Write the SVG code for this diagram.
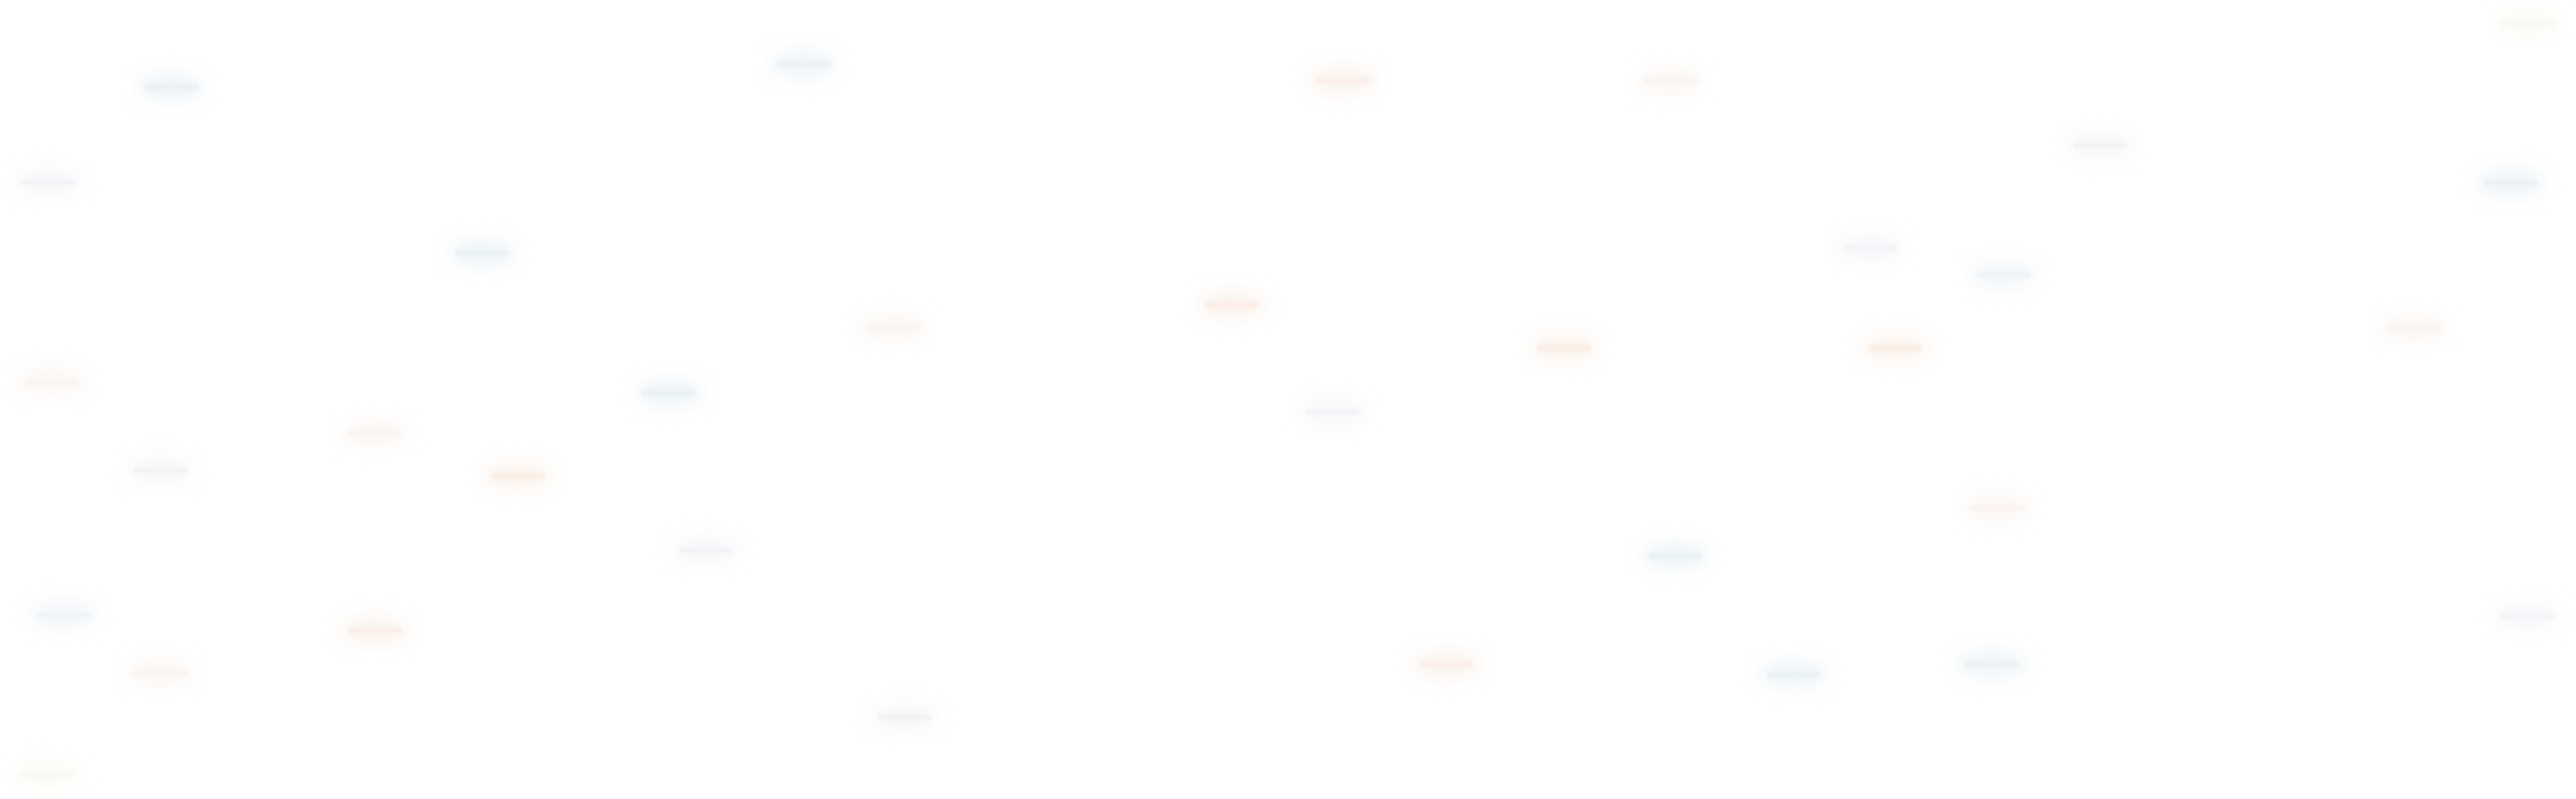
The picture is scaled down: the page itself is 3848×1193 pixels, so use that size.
<svg xmlns="http://www.w3.org/2000/svg" width="3848" height="1193" viewBox="0 0 3848 1193">
<defs>
<filter id="haze" x="-60%" y="-100%" width="220%" height="300%"><feGaussianBlur stdDeviation="9"/></filter>
<filter id="mist" x="-40%" y="-100%" width="180%" height="300%"><feGaussianBlur stdDeviation="4"/></filter>
<filter id="bar" x="-20%" y="-150%" width="140%" height="400%"><feGaussianBlur stdDeviation="1.6"/></filter>
</defs>
<style>
.halo{stroke:none}
.mid{stroke:none}
.bar{stroke:none}
.b1 .halo{fill:#f7f9fb}.b1 .mid{fill:#f2f6f9}.b1 .bar{fill:#ebf2f6}
.b2 .halo{fill:#f9fafc}.b2 .mid{fill:#f4f8fa}.b2 .bar{fill:#eef4f7}
.b3 .halo{fill:#fbfbfc}.b3 .mid{fill:#f8f9fa}.b3 .bar{fill:#f2f4f7}
.o1 .halo{fill:#fdf9f6}.o1 .mid{fill:#fcf4ef}.o1 .bar{fill:#fbefe8}
.o2 .halo{fill:#fdfbf9}.o2 .mid{fill:#fcf8f5}.o2 .bar{fill:#fbf4f0}
.g .halo{fill:#fcfbfb}.g .mid{fill:#f9f8f8}.g .bar{fill:#f3f3f3}
.y .halo{fill:#fdfdfa}.y .mid{fill:#fcfbf7}.y .bar{fill:#f9f8f1}
</style>
<rect width="3848" height="1193" fill="#ffffff"/>
<g id="connectors"></g>
<g id="blobs">
<g id="n1" class="b1" transform="translate(256,130)"><ellipse class="halo" rx="55" ry="28" filter="url(#haze)"/><ellipse class="mid" rx="40" ry="15" filter="url(#mist)"/><rect class="bar" x="-40" y="-5" width="80" height="10" rx="5" filter="url(#bar)"/></g>
<g id="n2" class="b1" transform="translate(1200,96)"><ellipse class="halo" rx="55" ry="28" filter="url(#haze)"/><ellipse class="mid" rx="40" ry="15" filter="url(#mist)"/><rect class="bar" x="-40" y="-5" width="80" height="10" rx="5" filter="url(#bar)"/></g>
<g id="n3" class="o1" transform="translate(2005,120)"><ellipse class="halo" rx="55" ry="28" filter="url(#haze)"/><ellipse class="mid" rx="40" ry="15" filter="url(#mist)"/><rect class="bar" x="-40" y="-4" width="80" height="8" rx="4" filter="url(#bar)"/></g>
<g id="n4" class="o2" transform="translate(2496,121)"><ellipse class="halo" rx="55" ry="28" filter="url(#haze)"/><ellipse class="mid" rx="40" ry="15" filter="url(#mist)"/><rect class="bar" x="-40" y="-4" width="80" height="8" rx="4" filter="url(#bar)"/></g>
<g id="n5" class="g" transform="translate(3137,217)"><ellipse class="halo" rx="55" ry="28" filter="url(#haze)"/><ellipse class="mid" rx="40" ry="15" filter="url(#mist)"/><rect class="bar" x="-40" y="-4" width="80" height="8" rx="4" filter="url(#bar)"/></g>
<g id="n6" class="b1" transform="translate(3750,273)"><ellipse class="halo" rx="55" ry="28" filter="url(#haze)"/><ellipse class="mid" rx="40" ry="15" filter="url(#mist)"/><rect class="bar" x="-40" y="-4" width="80" height="8" rx="4" filter="url(#bar)"/></g>
<g id="n7" class="y" transform="translate(3776,34)"><ellipse class="halo" rx="55" ry="28" filter="url(#haze)"/><ellipse class="mid" rx="40" ry="15" filter="url(#mist)"/><rect class="bar" x="-40" y="-4" width="80" height="8" rx="4" filter="url(#bar)"/></g>
<g id="n8" class="b3" transform="translate(73,272)"><ellipse class="halo" rx="55" ry="28" filter="url(#haze)"/><ellipse class="mid" rx="40" ry="15" filter="url(#mist)"/><rect class="bar" x="-40" y="-4" width="80" height="8" rx="4" filter="url(#bar)"/></g>
<g id="n9" class="b1" transform="translate(720,378)"><ellipse class="halo" rx="55" ry="28" filter="url(#haze)"/><ellipse class="mid" rx="40" ry="15" filter="url(#mist)"/><rect class="bar" x="-40" y="-5" width="80" height="10" rx="5" filter="url(#bar)"/></g>
<g id="n10" class="o1" transform="translate(1840,455)"><ellipse class="halo" rx="55" ry="28" filter="url(#haze)"/><ellipse class="mid" rx="40" ry="15" filter="url(#mist)"/><rect class="bar" x="-40" y="-5" width="80" height="10" rx="5" filter="url(#bar)"/></g>
<g id="n11" class="o2" transform="translate(1334,489)"><ellipse class="halo" rx="55" ry="28" filter="url(#haze)"/><ellipse class="mid" rx="40" ry="15" filter="url(#mist)"/><rect class="bar" x="-40" y="-4" width="80" height="8" rx="4" filter="url(#bar)"/></g>
<g id="n12" class="b3" transform="translate(2793,370)"><ellipse class="halo" rx="55" ry="28" filter="url(#haze)"/><ellipse class="mid" rx="40" ry="15" filter="url(#mist)"/><rect class="bar" x="-40" y="-4" width="80" height="8" rx="4" filter="url(#bar)"/></g>
<g id="n13" class="b2" transform="translate(2992,410)"><ellipse class="halo" rx="55" ry="28" filter="url(#haze)"/><ellipse class="mid" rx="40" ry="15" filter="url(#mist)"/><rect class="bar" x="-40" y="-4" width="80" height="8" rx="4" filter="url(#bar)"/></g>
<g id="n14" class="o1" transform="translate(2336,519)"><ellipse class="halo" rx="55" ry="28" filter="url(#haze)"/><ellipse class="mid" rx="40" ry="15" filter="url(#mist)"/><rect class="bar" x="-40" y="-5" width="80" height="10" rx="5" filter="url(#bar)"/></g>
<g id="n15" class="o1" transform="translate(2831,520)"><ellipse class="halo" rx="55" ry="28" filter="url(#haze)"/><ellipse class="mid" rx="40" ry="15" filter="url(#mist)"/><rect class="bar" x="-40" y="-5" width="80" height="10" rx="5" filter="url(#bar)"/></g>
<g id="n16" class="o2" transform="translate(3606,490)"><ellipse class="halo" rx="55" ry="28" filter="url(#haze)"/><ellipse class="mid" rx="40" ry="15" filter="url(#mist)"/><rect class="bar" x="-40" y="-4" width="80" height="8" rx="4" filter="url(#bar)"/></g>
<g id="n17" class="o2" transform="translate(77,570)"><ellipse class="halo" rx="55" ry="28" filter="url(#haze)"/><ellipse class="mid" rx="40" ry="15" filter="url(#mist)"/><rect class="bar" x="-40" y="-4" width="80" height="8" rx="4" filter="url(#bar)"/></g>
<g id="n18" class="b1" transform="translate(999,587)"><ellipse class="halo" rx="55" ry="28" filter="url(#haze)"/><ellipse class="mid" rx="40" ry="15" filter="url(#mist)"/><rect class="bar" x="-40" y="-5" width="80" height="10" rx="5" filter="url(#bar)"/></g>
<g id="n19" class="b3" transform="translate(1991,615)"><ellipse class="halo" rx="55" ry="28" filter="url(#haze)"/><ellipse class="mid" rx="40" ry="15" filter="url(#mist)"/><rect class="bar" x="-40" y="-4" width="80" height="8" rx="4" filter="url(#bar)"/></g>
<g id="n20" class="o2" transform="translate(560,647)"><ellipse class="halo" rx="55" ry="28" filter="url(#haze)"/><ellipse class="mid" rx="40" ry="15" filter="url(#mist)"/><rect class="bar" x="-40" y="-4" width="80" height="8" rx="4" filter="url(#bar)"/></g>
<g id="n21" class="g" transform="translate(240,702)"><ellipse class="halo" rx="55" ry="28" filter="url(#haze)"/><ellipse class="mid" rx="40" ry="15" filter="url(#mist)"/><rect class="bar" x="-40" y="-4" width="80" height="8" rx="4" filter="url(#bar)"/></g>
<g id="n22" class="o1" transform="translate(774,711)"><ellipse class="halo" rx="55" ry="28" filter="url(#haze)"/><ellipse class="mid" rx="40" ry="15" filter="url(#mist)"/><rect class="bar" x="-40" y="-5" width="80" height="10" rx="5" filter="url(#bar)"/></g>
<g id="n23" class="o2" transform="translate(2983,758)"><ellipse class="halo" rx="55" ry="28" filter="url(#haze)"/><ellipse class="mid" rx="40" ry="15" filter="url(#mist)"/><rect class="bar" x="-40" y="-4" width="80" height="8" rx="4" filter="url(#bar)"/></g>
<g id="n24" class="b3" transform="translate(1054,822)"><ellipse class="halo" rx="55" ry="28" filter="url(#haze)"/><ellipse class="mid" rx="40" ry="15" filter="url(#mist)"/><rect class="bar" x="-40" y="-4" width="80" height="8" rx="4" filter="url(#bar)"/></g>
<g id="n25" class="b1" transform="translate(2502,830)"><ellipse class="halo" rx="55" ry="28" filter="url(#haze)"/><ellipse class="mid" rx="40" ry="15" filter="url(#mist)"/><rect class="bar" x="-40" y="-5" width="80" height="10" rx="5" filter="url(#bar)"/></g>
<g id="n26" class="b2" transform="translate(95,918)"><ellipse class="halo" rx="55" ry="28" filter="url(#haze)"/><ellipse class="mid" rx="40" ry="15" filter="url(#mist)"/><rect class="bar" x="-40" y="-4" width="80" height="8" rx="4" filter="url(#bar)"/></g>
<g id="n27" class="o1" transform="translate(560,942)"><ellipse class="halo" rx="55" ry="28" filter="url(#haze)"/><ellipse class="mid" rx="40" ry="15" filter="url(#mist)"/><rect class="bar" x="-40" y="-4" width="80" height="8" rx="4" filter="url(#bar)"/></g>
<g id="n28" class="b3" transform="translate(3775,920)"><ellipse class="halo" rx="55" ry="28" filter="url(#haze)"/><ellipse class="mid" rx="40" ry="15" filter="url(#mist)"/><rect class="bar" x="-40" y="-4" width="80" height="8" rx="4" filter="url(#bar)"/></g>
<g id="n29" class="o2" transform="translate(240,1005)"><ellipse class="halo" rx="55" ry="28" filter="url(#haze)"/><ellipse class="mid" rx="40" ry="15" filter="url(#mist)"/><rect class="bar" x="-40" y="-4" width="80" height="8" rx="4" filter="url(#bar)"/></g>
<g id="n30" class="o1" transform="translate(2160,992)"><ellipse class="halo" rx="55" ry="28" filter="url(#haze)"/><ellipse class="mid" rx="40" ry="15" filter="url(#mist)"/><rect class="bar" x="-40" y="-4" width="80" height="8" rx="4" filter="url(#bar)"/></g>
<g id="n31" class="b1" transform="translate(2679,1007)"><ellipse class="halo" rx="55" ry="28" filter="url(#haze)"/><ellipse class="mid" rx="40" ry="15" filter="url(#mist)"/><rect class="bar" x="-40" y="-5" width="80" height="10" rx="5" filter="url(#bar)"/></g>
<g id="n32" class="b1" transform="translate(2975,992)"><ellipse class="halo" rx="55" ry="28" filter="url(#haze)"/><ellipse class="mid" rx="40" ry="15" filter="url(#mist)"/><rect class="bar" x="-40" y="-5" width="80" height="10" rx="5" filter="url(#bar)"/></g>
<g id="n33" class="g" transform="translate(1351,1071)"><ellipse class="halo" rx="55" ry="28" filter="url(#haze)"/><ellipse class="mid" rx="40" ry="15" filter="url(#mist)"/><rect class="bar" x="-40" y="-4" width="80" height="8" rx="4" filter="url(#bar)"/></g>
<g id="n34" class="y" transform="translate(70,1156)"><ellipse class="halo" rx="55" ry="28" filter="url(#haze)"/><ellipse class="mid" rx="40" ry="15" filter="url(#mist)"/><rect class="bar" x="-40" y="-4" width="80" height="8" rx="4" filter="url(#bar)"/></g>
</g>
</svg>
